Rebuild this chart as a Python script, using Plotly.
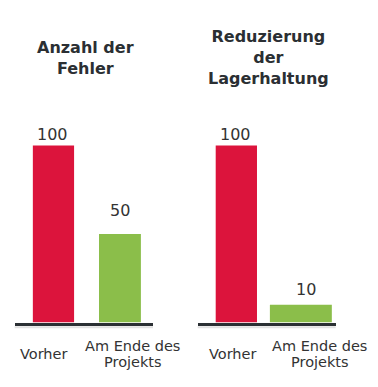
import plotly.graph_objects as go

categories = ["Vorher", "Am Ende des Projekts"]
label_lines = [["Vorher"], ["Am Ende des", "Projekts"]]
titles = ["Anzahl der<br>Fehler", "Reduzierung<br>der<br>Lagerhaltung"]
values_fehler = [100, 50]
values_lager = [100, 10]
colors = ["#DC143C", "#8BBE4A"]

OFF = 8  # page body margin
W, H = 378 - 2 * OFF, 387 - 2 * OFF

def px(x):
    return (x - OFF) / W

def py(y):
    return (H - (y - OFF)) / H

fig = go.Figure()

panels = [
    dict(vals=values_fehler, xa="x", ya="y", widths=[0.62, 0.63],
         vshift=[(-1, 0), (0, 12)]),
    dict(vals=values_lager, xa="x2", ya="y2", widths=[0.64, 0.96],
         vshift=[(-1, 0), (5, 4)]),
]

for p in panels:
    fig.add_trace(go.Bar(
        x=categories, y=p["vals"], xaxis=p["xa"], yaxis=p["ya"],
        marker=dict(color=colors, line=dict(width=0)), width=p["widths"],
        cliponaxis=False, hoverinfo="skip"))
    for cat, v, (xs, ys) in zip(categories, p["vals"], p["vshift"]):
        fig.add_annotation(text=str(v), xref=p["xa"], yref=p["ya"], x=cat, y=v,
                           xanchor="center", yanchor="bottom", xshift=xs, yshift=ys,
                           showarrow=False,
                           font=dict(family="DejaVu Sans", size=16, color="#333333"))

ybot = py(322.5)
ytop = py(110.1)

axis_common = dict(type="category", showgrid=False, zeroline=False,
                   showticklabels=False, ticks="", showline=True,
                   linecolor="#2B3034", linewidth=3, fixedrange=True)

fig.update_layout(
    width=W, height=H,
    margin=dict(l=0, r=0, t=0, b=0),
    paper_bgcolor="white", plot_bgcolor="white",
    showlegend=False,
    xaxis=dict(domain=[px(14.7), px(153)], range=[-0.583, 1.497], anchor="y", **axis_common),
    yaxis=dict(domain=[ybot, ytop], range=[0, 120], visible=False, anchor="x", fixedrange=True),
    xaxis2=dict(domain=[px(197.7), px(335.7)], range=[-0.599, 1.540], anchor="y2", **axis_common),
    yaxis2=dict(domain=[ybot, ytop], range=[0, 120], visible=False, anchor="x2", fixedrange=True),
)

# shadow under baseline
for xr, yr in [("x domain", "y domain"), ("x2 domain", "y2 domain")]:
    fig.add_shape(type="line", xref=xr, yref=yr, x0=0, x1=1, y0=-0.022, y1=-0.022,
                  line=dict(color="#E2E2E2", width=2), layer="below")

# titles
for t, xc in zip(titles, [85.7, 268]):
    fig.add_annotation(text="<b>%s</b>" % t, xref="paper", yref="paper",
                       x=px(xc), y=py(57.5), xanchor="center", yanchor="middle",
                       showarrow=False,
                       font=dict(family="DejaVu Sans", size=16, color="#2B2F33"))

# category labels
shifts = {"x": [-10, 13], "x2": [-4, 19]}
for xr in ["x", "x2"]:
    for cat, lines, sh in zip(categories, label_lines, shifts[xr]):
        if len(lines) == 1:
            ys = [353.5]
        else:
            ys = [346, 362]
        for line, yy in zip(lines, ys):
            fig.add_annotation(text=line, xref=xr, yref="paper", x=cat, y=py(yy),
                               xanchor="center", yanchor="middle", xshift=sh,
                               showarrow=False,
                               font=dict(family="DejaVu Sans", size=14.5, color="#333333"))

fig.write_html("out.html")
